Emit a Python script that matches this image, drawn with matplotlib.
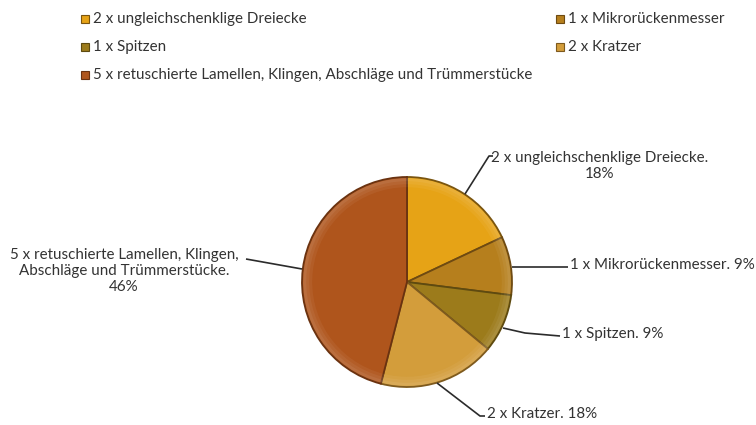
import matplotlib
matplotlib.use("Agg")
import matplotlib.pyplot as plt
from matplotlib.patches import Rectangle, Wedge

# Fundstücke und ihre Anteile (Prozent, wie beschriftet)
labels = [
    "2 x ungleichschenklige Dreiecke",
    "1 x Mikrorückenmesser",
    "1 x Spitzen",
    "2 x Kratzer",
    "5 x retuschierte Lamellen, Klingen, Abschläge und Trümmerstücke",
]
shares = [18, 9, 9, 18, 46]
colors = ["#E6A316", "#B67F1D", "#9C7B1B", "#D39D3B", "#AF551C"]
edge_colors = ["#7A5510", "#6E4A12", "#5E4A10", "#7E5A1E", "#6A3210"]

# Datenbeschriftungen am Kreis
data_labels = [
    "2 x ungleichschenklige Dreiecke.\n18%",
    "1 x Mikrorückenmesser. 9%",
    "1 x Spitzen. 9%",
    "2 x Kratzer. 18%",
    "5 x retuschierte Lamellen, Klingen,\nAbschläge und Trümmerstücke.\n46%",
]

W, H = 756, 425
TEXT = "#333333"
FONT = ["Lato", "DejaVu Sans"]
FS = 10.9


def P(x, y):
    """Pixelkoordinate (y nach unten) -> Achsenkoordinate (y nach oben)."""
    return x, H - y


fig = plt.figure(figsize=(W / 100, H / 100), dpi=100)
ax = fig.add_axes([0, 0, 1, 1])

# Kreisdiagramm, im Uhrzeigersinn ab 12 Uhr
center = P(407, 282)
R = 105
wedges, _ = ax.pie(shares, colors=colors, startangle=90, counterclock=False,
                   center=center, radius=R,
                   wedgeprops=dict(linewidth=1.3, edgecolor="#6B4414"))
for w, ec in zip(wedges, edge_colors):
    w.set_edgecolor(ec)
    # weicher heller Rand an der Außenkante -> leichte Wölbung
    for width, alpha in [(9, 0.05), (6, 0.05), (3, 0.06)]:
        ax.add_patch(Wedge(center, R - 1.2, w.theta1, w.theta2, width=width,
                           facecolor="white", alpha=alpha, lw=0,
                           zorder=w.zorder + 0.1))

# Führungslinien + Beschriftungen
leaders = [
    [(465, 194), (489, 156), (493, 156)],
    [(512, 267), (568, 267)],
    [(503, 328), (525, 333), (560, 336)],
    [(437, 383), (480, 416), (485, 416)],
    [(302, 269), (246, 259)],
]
text_pos = [(491, 166, "left"), (570, 265, "left"), (562, 334, "left"),
            (487, 414, "left"), (124, 271, "center")]
for pts, (tx, ty, ha), txt in zip(leaders, text_pos, data_labels):
    xs, ys = zip(*[P(x, y) for x, y in pts])
    ax.plot(xs, ys, color="#2b2b2b", lw=1.2, solid_capstyle="butt")
    ax.text(*P(tx, ty), txt, ha=ha, va="center", multialignment="center",
            fontsize=FS, color=TEXT, family=FONT, linespacing=1.2)

# Legende oben: zwei Spalten, dritte Zeile nur links
legend_pos = [(81, 19), (556, 19), (81, 47), (556, 47), (81, 75)]
for (lx, ly), lab, c, ec in zip(legend_pos, labels, colors, edge_colors):
    x0, y0 = P(lx, ly + 4)
    ax.add_patch(Rectangle((x0, y0), 8, 8, facecolor=c, edgecolor=ec, lw=0.8))
    ax.text(*P(lx + 12, ly), lab, ha="left", va="center",
            fontsize=FS, color=TEXT, family=FONT)

ax.set_xlim(0, W)
ax.set_ylim(0, H)
ax.set_aspect("equal")
ax.axis("off")

fig.savefig("out.png", dpi=100, facecolor="white")
